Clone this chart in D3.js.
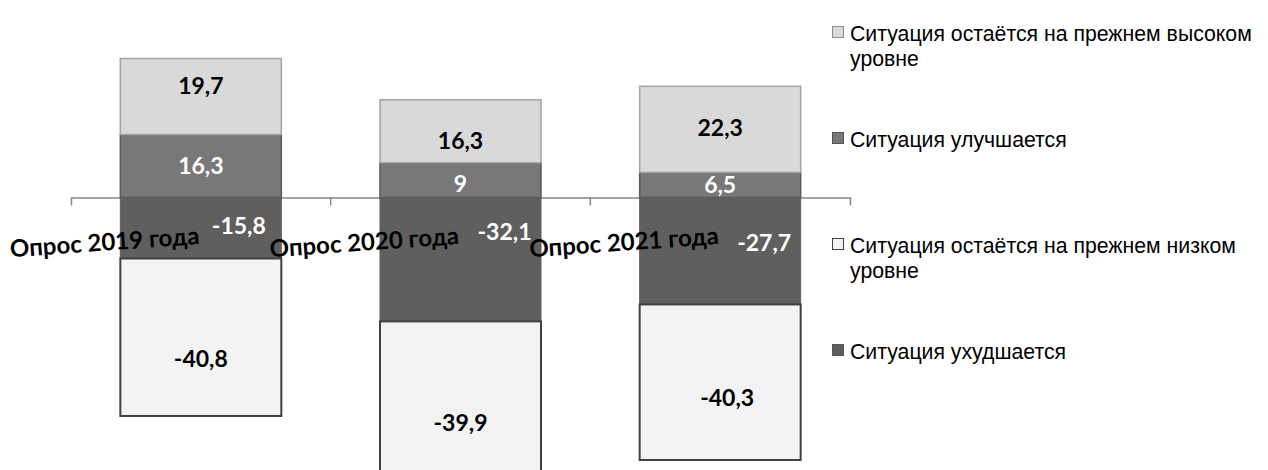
<!DOCTYPE html>
<html><head><meta charset="utf-8">
<script src="https://cdn.jsdelivr.net/npm/d3@7"></script>
<style>html,body{margin:0;padding:0;background:#fff;overflow:hidden}</style>
</head><body>
<svg id="chart" width="1268" height="470"></svg>
<script>
// ---- data ----
const categories = ["Опрос 2019 года", "Опрос 2020 года", "Опрос 2021 года"];
const seriesNames = [
  "Ситуация остаётся на прежнем высоком уровне",
  "Ситуация улучшается",
  "Ситуация остаётся на прежнем низком уровне",
  "Ситуация ухудшается"
];
const highValues = [19.7, 16.3, 22.3];
const improveValues = [16.3, 9, 6.5];
const lowValues = [-40.8, -39.9, -40.3];
const worseValues = [-15.8, -32.1, -27.7];
const valueLabels = {
  high: ["19,7", "16,3", "22,3"],
  improve: ["16,3", "9", "6,5"],
  worse: ["-15,8", "-32,1", "-27,7"],
  low: ["-40,8", "-39,9", "-40,3"]
};

// ---- style / layout ----
const styles = {
  high: {fill: "#d9d9d9", stroke: "#a3a3a3", sw: 1.5, text: "#000"},
  improve: {fill: "#787878", stroke: "#5a5a5a", sw: 1.5, text: "#fff"},
  worse: {fill: "#5f5f5f", stroke: "#5f5f5f", sw: 1, text: "#fff"},
  low: {fill: "#f3f3f3", stroke: "#404040", sw: 2, text: "#000"}
};
// manual label nudges (dx, dy) as in the original
const labelNudge = {
  high: [[0, -11], [0, 9], [0, -2]],
  improve: [[0, 0], [0, 4], [0, 0]],
  worse: [[38, -2], [44, -28], [44, -8]],
  low: [[0, 21], [0, 24], [7, 16]]
};

const svg = d3.select("#chart");
const x = d3.scaleBand().domain(categories).range([71, 850]).paddingInner(0.38).paddingOuter(0.19);
const y = d3.scaleLinear().domain([-70, 50]).range([467.7, 4.5]);

// axis
const axisG = svg.append("g").attr("transform", `translate(0,${y(0)})`)
  .call(d3.axisBottom(x).tickSizeInner(0).tickSizeOuter(8).tickFormat(""));
axisG.select(".domain").attr("stroke", "#868686").attr("stroke-width", 1.5);
const step = x.step();
const inner = categories.slice(1).map(c => x(c) - step * x.paddingInner() / 2);
axisG.selectAll(".btick").data(inner).enter().append("line")
  .attr("x1", d => d).attr("x2", d => d).attr("y1", 0).attr("y2", 8)
  .attr("stroke", "#868686").attr("stroke-width", 1.5);

// stacked segments
const segs = [];
categories.forEach((c, i) => {
  segs.push({key: "improve", c, i, y0: 0, y1: improveValues[i], label: valueLabels.improve[i]});
  segs.push({key: "high", c, i, y0: improveValues[i], y1: improveValues[i] + highValues[i], label: valueLabels.high[i]});
  segs.push({key: "worse", c, i, y0: 0, y1: worseValues[i], label: valueLabels.worse[i]});
  segs.push({key: "low", c, i, y0: worseValues[i], y1: worseValues[i] + lowValues[i], label: valueLabels.low[i]});
});
const order = ["worse", "low", "improve", "high"];
segs.sort((a, b) => order.indexOf(a.key) - order.indexOf(b.key));

svg.append("g").selectAll("rect").data(segs).enter().append("rect")
  .attr("x", d => x(d.c))
  .attr("width", x.bandwidth())
  .attr("y", d => Math.min(y(d.y0), y(d.y1)))
  .attr("height", d => Math.abs(y(d.y0) - y(d.y1)))
  .attr("fill", d => styles[d.key].fill)
  .attr("stroke", d => styles[d.key].stroke)
  .attr("stroke-width", d => styles[d.key].sw);

// category labels
svg.append("g").selectAll("text").data(categories).enter().append("text")
  .attr("transform", d => `translate(${x(d) + x.bandwidth() / 2 - 1},244) rotate(-4)`)
  .attr("text-anchor", "end")
  .attr("font-family", "Lato, 'Open Sans', sans-serif")
  .attr("font-weight", "bold")
  .attr("font-size", 24)
  .attr("fill", "#000")
  .text(d => d);

// value labels
svg.append("g").selectAll("text").data(segs).enter().append("text")
  .attr("x", d => x(d.c) + x.bandwidth() / 2 + labelNudge[d.key][d.i][0])
  .attr("y", d => (y(d.y0) + y(d.y1)) / 2 + labelNudge[d.key][d.i][1])
  .attr("dy", "0.36em")
  .attr("text-anchor", "middle")
  .attr("font-family", "Lato, 'Open Sans', sans-serif")
  .attr("font-weight", "bold")
  .attr("font-size", 23)
  .attr("fill", d => styles[d.key].text)
  .text(d => d.label);

// legend
const legendItems = [
  {key: "high", lines: ["Ситуация остаётся на прежнем высоком", "уровне"]},
  {key: "improve", lines: ["Ситуация улучшается"]},
  {key: "low", lines: ["Ситуация остаётся на прежнем низком", "уровне"]},
  {key: "worse", lines: ["Ситуация ухудшается"]}
];
const lg = svg.append("g");
// pick legend font size so the longest line fits in the available width
const probe = lg.append("text").attr("font-family", "'Liberation Sans Narrow', 'Liberation Sans', Arial, sans-serif")
  .attr("font-size", 20).text(legendItems[0].lines[0]);
const legendFont = Math.min(23, 20 * 402 / probe.node().getComputedTextLength());
probe.remove();
legendItems.forEach((it, k) => {
  const base = 41 + k * 106;
  lg.append("rect").attr("x", 832.5).attr("y", base - 14.5).attr("width", 11).attr("height", 11)
    .attr("fill", styles[it.key].fill)
    .attr("stroke", it.key === "low" ? "#404040" : (it.key === "high" ? "#8c8c8c" : "#555"))
    .attr("stroke-width", 1);
  it.lines.forEach((ln, j) => {
    lg.append("text").attr("x", 850).attr("y", base + j * 25)
      .attr("font-family", "'Liberation Sans Narrow', 'Liberation Sans', Arial, sans-serif")
      .attr("font-size", legendFont).attr("fill", "#000").text(ln);
  });
});
</script>
</body></html>
